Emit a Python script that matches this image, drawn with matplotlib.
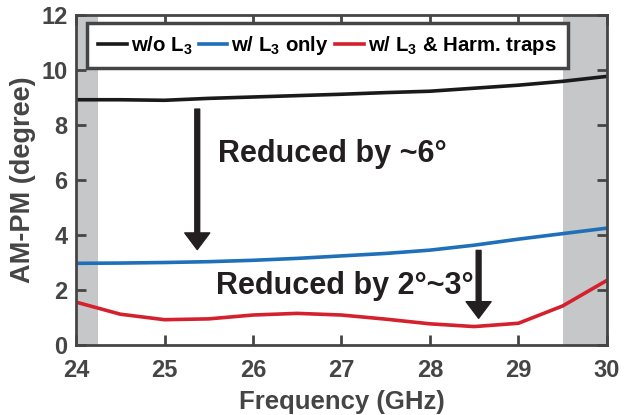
import matplotlib
matplotlib.use("Agg")
import matplotlib.pyplot as plt

plt.rcParams["font.family"] = ["Liberation Sans", "DejaVu Sans"]
plt.rcParams["font.weight"] = "bold"
plt.rcParams["mathtext.fontset"] = "custom"
plt.rcParams["mathtext.rm"] = "Liberation Sans:bold"
plt.rcParams["mathtext.bf"] = "Liberation Sans:bold"

# values
freq = [24, 24.5, 25, 25.5, 26, 26.5, 27, 27.5, 28, 28.5, 29, 29.5, 30]
wo_l3 = [8.92, 8.92, 8.90, 8.97, 9.02, 9.07, 9.12, 9.18, 9.23, 9.34, 9.45, 9.59, 9.77]
w_l3 = [2.97, 2.98, 3.00, 3.03, 3.08, 3.15, 3.24, 3.33, 3.45, 3.63, 3.85, 4.05, 4.25]
w_l3_traps = [1.56, 1.12, 0.92, 0.95, 1.09, 1.15, 1.09, 0.94, 0.77, 0.67, 0.79, 1.42, 2.35]

shade_bands = [(24, 24.25), (29.5, 30)]
x_ticks = [24, 25, 26, 27, 28, 29, 30]
y_ticks = [0, 2, 4, 6, 8, 10, 12]

gray = "#454545"
ink = "#231f20"

fig = plt.figure(figsize=(6.32, 4.15), dpi=100)
ax = fig.add_axes([0.1203, 0.1687, 0.840, 0.795])

for lo, hi in shade_bands:
    ax.axvspan(lo, hi, color="#c6c7c9", lw=0, zorder=0)

ax.plot(freq, wo_l3, color="#1a1a1a", lw=2.6, label=r"w/o L$_\mathbf{3}$")
ax.plot(freq, w_l3, color="#1f70b8", lw=2.6, label=r"w/ L$_\mathbf{3}$ only")
ax.plot(freq, w_l3_traps, color="#d4212d", lw=2.6,
        label=r"w/ L$_\mathbf{3}$ & Harm. traps")

ax.set_xlim(24, 30)
ax.set_ylim(0, 12)
ax.set_xticks(x_ticks)
ax.set_yticks(y_ticks)
ax.tick_params(direction="in", top=True, right=True, length=7, width=2,
               color=gray, labelcolor=gray, labelsize=17)
ax.tick_params(axis="x", pad=10)
ax.tick_params(axis="y", pad=6)
for lab in ax.get_xticklabels() + ax.get_yticklabels():
    lab.set_fontweight("bold")
for sp in ax.spines.values():
    sp.set_color(gray)
    sp.set_linewidth(2)

ax.set_xlabel("Frequency (GHz)", fontsize=18.5, color=gray, fontweight="bold", labelpad=6)
ax.set_ylabel("AM-PM (degree)", fontsize=19.5, color=gray, fontweight="bold", labelpad=4)

arrow = dict(facecolor=ink, edgecolor=ink, width=3.5, headwidth=18,
             headlength=12, shrink=0)
ax.annotate("", xy=(25.37, 3.47), xytext=(25.37, 8.58), arrowprops=arrow)
ax.annotate("", xy=(28.55, 0.97), xytext=(28.55, 3.44), arrowprops=arrow)

ax.text(25.6, 6.95, "Reduced by ~6°", fontsize=22, color=ink, fontweight="bold",
        va="center", ha="left")
ax.text(25.58, 2.15, "Reduced by 2°~3°", fontsize=22, color=ink, fontweight="bold",
        va="center", ha="left")

leg = ax.legend(loc="upper left", bbox_to_anchor=(0.0205, 0.976), borderaxespad=0,
                ncol=3, fontsize=14.7, handlelength=1.4, handletextpad=0.2,
                columnspacing=0.3, borderpad=0.55, fancybox=False, framealpha=1,
                edgecolor=gray)
leg.get_frame().set_linewidth(2.5)
for t in leg.get_texts():
    t.set_color("black")

fig.savefig("out.png", dpi=100)
